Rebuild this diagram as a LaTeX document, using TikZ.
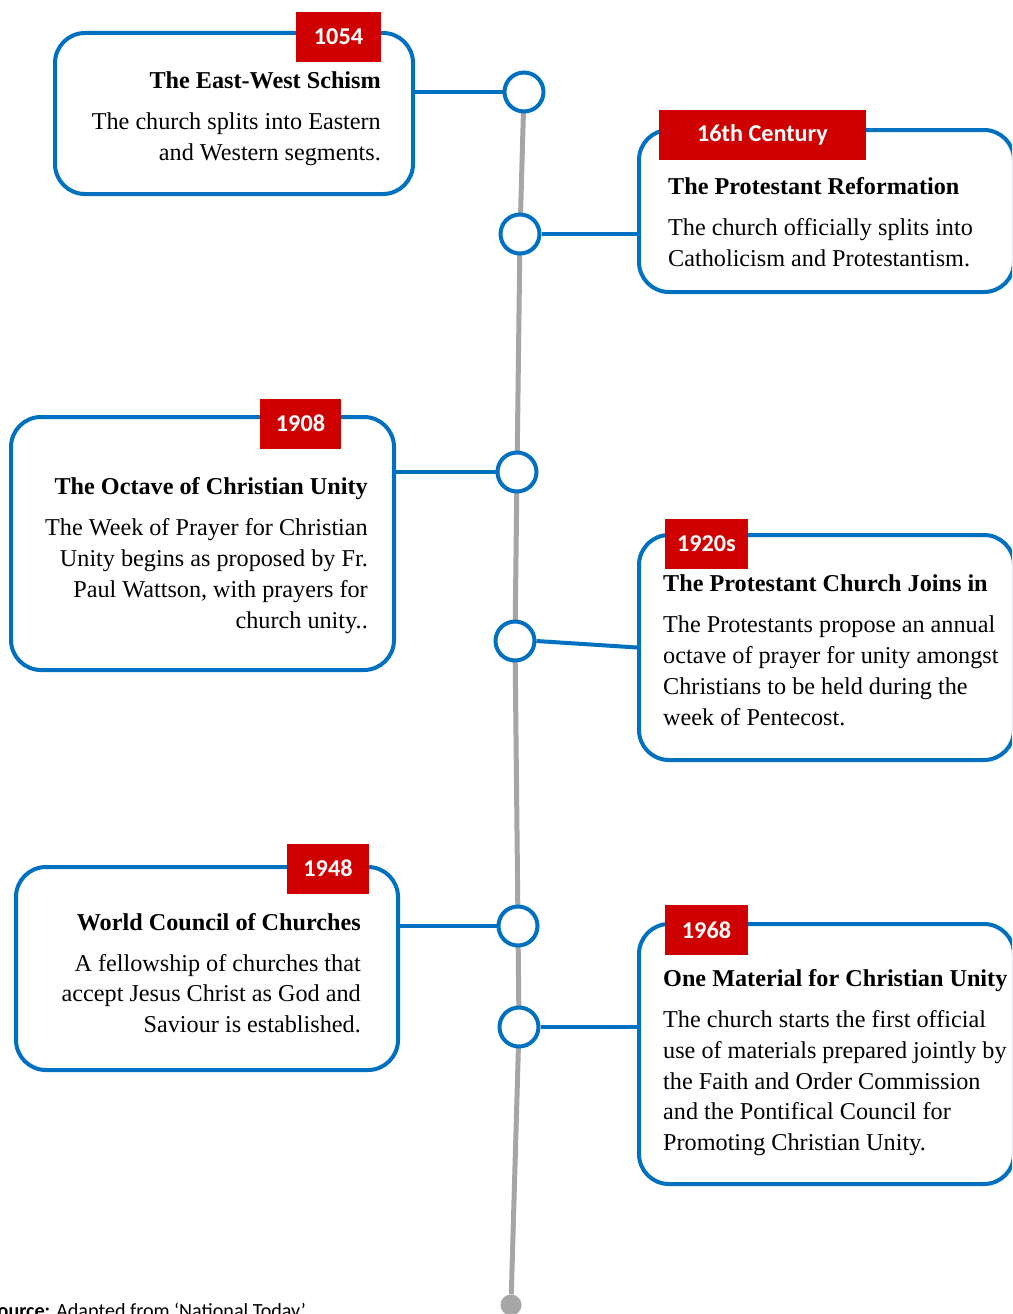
\documentclass[tikz,border=0pt]{standalone}
\usepackage{fontspec}
\setmainfont{Liberation Serif}
\newfontfamily\labelfont{Carlito}
\usetikzlibrary{positioning}

\begin{document}
\begin{tikzpicture}[x=1pt, y=-1pt,
    every node/.style={font=\fontsize{24.2}{30.7}\selectfont},
    eventbox/.style={draw=tlblue, fill=white, line width=4pt, rounded corners=30pt, inner sep=0pt},
    yearlabel/.style={fill=tlred, text=white, inner sep=0pt, minimum height=50pt, font=\labelfont\bfseries\fontsize{24.2}{29}\selectfont},
    stopdot/.style={circle, draw=tlblue, fill=white, line width=4pt, minimum size=39pt, inner sep=0pt},
    link/.style={draw=tlblue, line width=4pt},
    eventtext/.style={inner sep=0pt}]
        \definecolor{tlblue}{RGB}{0,112,192}
        \definecolor{tlred}{RGB}{206,0,0}
        \definecolor{tlgray}{RGB}{166,166,166}

        % Page frame, the right boxes run off the edge
        \useasboundingbox (0,0) rectangle (1012,1314);
        \clip (0,0) rectangle (1012,1314);

        % Stops on the timeline
        \coordinate (s1) at (524,92);
        \coordinate (s2) at (520,234);
        \coordinate (s3) at (517,472);
        \coordinate (s4) at (515,641);
        \coordinate (s5) at (518,926);
        \coordinate (s6) at (519,1027);
        \node[circle, fill=tlgray, minimum size=21pt, inner sep=0pt] (tlend) at (511,1305) {};

        % Gray spine
        \draw[tlgray, line width=5pt] (s1) -- (s2) -- (s3) -- (s4) -- (s5) -- (s6) -- (tlend);

        % Event boxes
        \node[eventbox, minimum width=358pt, minimum height=161pt] (schism) at (234,113.5) {};
        \node[eventbox, minimum width=375pt, minimum height=162pt] (reform) at (826.5,211) {};
        \node[eventbox, minimum width=383pt, minimum height=253pt] (octave) at (202.5,543.5) {};
        \node[eventbox, minimum width=375pt, minimum height=225pt] (joins) at (826.5,647.5) {};
        \node[eventbox, minimum width=382pt, minimum height=203pt] (council) at (207,968.5) {};
        \node[eventbox, minimum width=375pt, minimum height=260pt] (material) at (826.5,1054) {};

        % Year labels over the top borders
        \node[yearlabel, minimum width=85pt] (y1054) at (338.5,37) {1054};
        \node[yearlabel, minimum width=207pt] (y16th) at (762.5,135) {16th Century};
        \node[yearlabel, minimum width=81pt] (y1908) at (300.5,423.5) {1908};
        \node[yearlabel, minimum width=83pt] (y1920) at (706.5,544) {1920s};
        \node[yearlabel, minimum width=82pt] (y1948) at (328,868.5) {1948};
        \node[yearlabel, minimum width=83pt] (y1968) at (706.5,930) {1968};

        % Dots on the spine
        \foreach \s in {1,...,6}
            \node[stopdot] (dot\s) at (s\s) {};

        % Box to dot connectors
        \draw[link] (schism.east |- dot1) -- (dot1.west);
        \draw[link] (dot2.east) -- (reform.west |- dot2);
        \draw[link] (octave.east |- dot3) -- (dot3.west);
        \draw[link] (dot4.east) -- (joins.west);
        \draw[link] (council.east |- dot5) -- (dot5.west);
        \draw[link] (dot6.east) -- (material.west |- dot6);

        % Texts (base = last line)
        \node[eventtext, anchor=base east, align=right] (schismtxt) at (381,160.5)
            {\textbf{The East-West Schism}\\[10.3pt]The church splits into Eastern\\and Western segments.};
        \node[eventtext, anchor=base west, align=left] (reformtxt) at (668,266.5)
            {\textbf{The Protestant Reformation}\\[10.3pt]The church officially splits into\\Catholicism and Protestantism.};
        \node[eventtext, anchor=base east, align=right] (octavetxt) at (368,628)
            {\textbf{The Octave of Christian Unity}\\[10.3pt]The Week of Prayer for Christian\\Unity begins as proposed by Fr.\\Paul Wattson, with prayers for\\church unity..};
        \node[eventtext, anchor=base west, align=left] (joinstxt) at (663,725)
            {\textbf{The Protestant Church Joins in}\\[10.3pt]The Protestants propose an annual\\octave of prayer for unity amongst\\Christians to be held during the\\week of Pentecost.};
        \node[eventtext, anchor=base east, align=right] (counciltxt) at (361,1032.5)
            {\textbf{World Council of Churches}\\[10.3pt]A fellowship of churches that\\accept Jesus Christ as God and\\Saviour is established.};
        \node[eventtext, anchor=base west, align=left] (materialtxt) at (663,1150.5)
            {\textbf{One Material for Christian Unity}\\[10.3pt]The church starts the first official\\use of materials prepared jointly by\\the Faith and Order Commission\\and the Pontifical Council for\\Promoting Christian Unity.};

        % Source line, cut at the page edge
        \node[inner sep=0pt, anchor=base west, font=\labelfont\fontsize{20.1}{23}\selectfont] (source) at (-12,1317)
            {\textbf{Source:} Adapted from ‘National Today’};
    \end{tikzpicture}
\end{document}
